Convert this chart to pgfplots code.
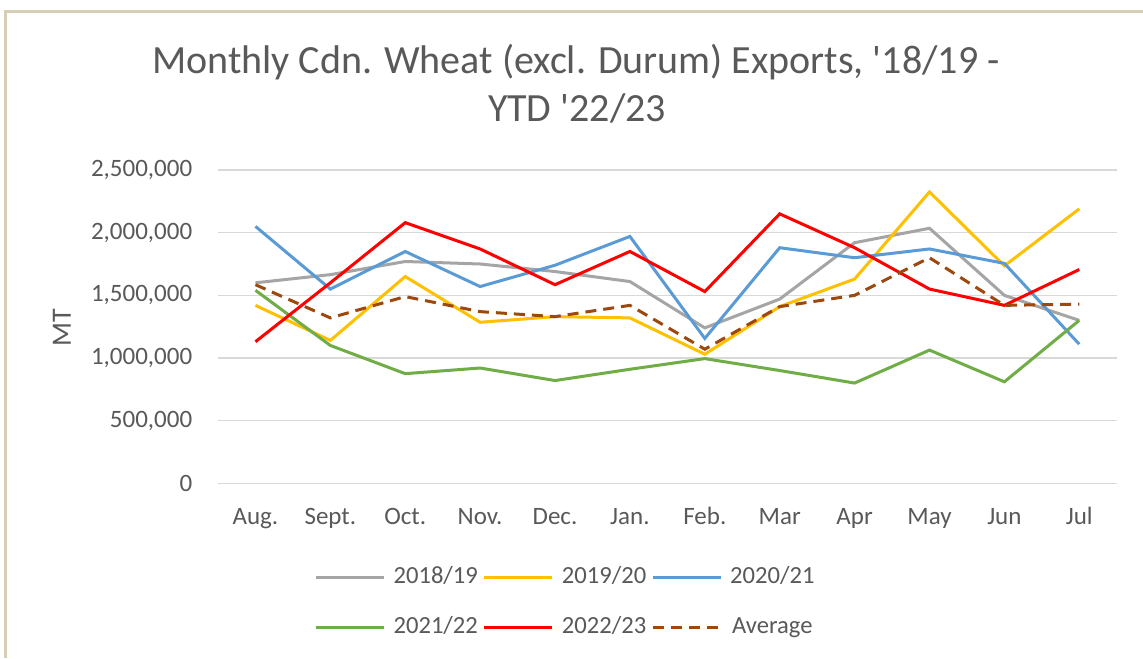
\documentclass[border=0pt]{standalone}
\usepackage{fontspec}
\setmainfont{Carlito}
\usepackage{pgfplots}
\pgfplotsset{compat=1.18}

\definecolor{txt}{HTML}{595959}
\definecolor{gridc}{HTML}{D9D9D9}
\definecolor{frame}{HTML}{D6CFB6}
\definecolor{s1}{HTML}{A5A5A5}
\definecolor{s2}{HTML}{FFC000}
\definecolor{s3}{HTML}{5B9BD5}
\definecolor{s4}{HTML}{70AD47}
\definecolor{s5}{HTML}{FF0000}
\definecolor{s6}{HTML}{9E480E}

\begin{document}
\begin{tikzpicture}
% page: 571.5pt x 329pt (half a pixel of the reference per pt), origin top left
\fill[white] (0pt,0pt) rectangle (571.5pt,-329pt);
\path[use as bounding box] (0pt,0pt) rectangle (571.5pt,-329pt);
\draw[frame, line width=1.5pt] (2.5pt,-329pt) -- (2.5pt,-5.75pt) -- (571.5pt,-5.75pt);

\node[anchor=base, text=txt, font=\fontsize{20}{24}\selectfont] at (288pt,-37pt)
  {Monthly Cdn. Wheat (excl. Durum) Exports, \textquotesingle 18/19 -};
\node[anchor=base, text=txt, font=\fontsize{20}{24}\selectfont] at (288.5pt,-60.5pt)
  {YTD \textquotesingle 22/23};
\node[rotate=90, text=txt, font=\fontsize{14}{16}\selectfont] at (31pt,-164pt) {MT};

\begin{axis}[
  at={(109pt,-241.65pt)}, anchor=south west,
  scale only axis, width=449.35pt, height=156.65pt,
  xmin=-0.5, xmax=11.5, ymin=0, ymax=2500000,
  axis line style={draw=none}, tick style={draw=none},
  xtick={0,...,11},
  xticklabels={Aug.,Sept.,Oct.,Nov.,Dec.,Jan.,Feb.,Mar,Apr,May,Jun,Jul},
  ytick={0,500000,...,2500000},
  scaled y ticks=false,
  ymajorgrids, major grid style={gridc, line width=0.8pt},
  /pgf/number format/fixed,
  /pgf/number format/1000 sep={,},
  /pgf/number format/assume math mode=true,
  yticklabel style={anchor=east, inner sep=0pt, xshift=-12.7pt, text=txt,
    font=\fontsize{12.5}{14}\selectfont},
  xticklabel style={anchor=base, inner sep=0pt, yshift=-20.8pt, text=txt,
    font=\fontsize{12.5}{14}\selectfont},
  every axis plot/.append style={line width=1.5pt, mark=none},
  legend columns=3,
  legend image code/.code={\draw[#1] (0pt,0pt) -- (34pt,0pt);},
  legend style={at={(0.3856,-0.379)}, anchor=center, draw=none, fill=none,
    font=\fontsize{12.3}{14}\selectfont, text=txt,
    nodes={inner sep=0pt, text height=8.5pt, text depth=2.5pt},
    row sep=14pt,
    /tikz/every odd column/.append style={column sep=4pt},
    /tikz/every even column/.append style={column sep=2.5pt}},
]
\addplot[s1] coordinates {(0,1600000) (1,1665000) (2,1770000) (3,1750000) (4,1690000) (5,1610000)
  (6,1240000) (7,1470000) (8,1920000) (9,2035000) (10,1500000) (11,1300000)};
\addlegendentry{2018/19}
\addplot[s2] coordinates {(0,1420000) (1,1140000) (2,1650000) (3,1285000) (4,1330000) (5,1320000)
  (6,1030000) (7,1410000) (8,1630000) (9,2325000) (10,1735000) (11,2190000)};
\addlegendentry{2019/20}
\addplot[s3] coordinates {(0,2050000) (1,1550000) (2,1850000) (3,1570000) (4,1740000) (5,1970000)
  (6,1156000) (7,1880000) (8,1800000) (9,1870000) (10,1755000) (11,1110000)};
\addlegendentry{2020/21}
\addplot[s4] coordinates {(0,1540000) (1,1100000) (2,875000) (3,920000) (4,820000) (5,910000)
  (6,995000) (7,900000) (8,800000) (9,1063000) (10,810000) (11,1300000)};
\addlegendentry{2021/22}
\addplot[s5] coordinates {(0,1130000) (1,1600000) (2,2080000) (3,1870000) (4,1585000) (5,1850000)
  (6,1530000) (7,2150000) (8,1880000) (9,1550000) (10,1420000) (11,1706000)};
\addlegendentry{2022/23}
\addplot[s6, dash pattern=on 5.5pt off 3.5pt] coordinates {(0,1585000) (1,1320000) (2,1490000)
  (3,1370000) (4,1330000) (5,1420000) (6,1070000) (7,1410000) (8,1500000) (9,1800000)
  (10,1420000) (11,1430000)};
\addlegendentry{Average}
\end{axis}
\end{tikzpicture}
\end{document}
